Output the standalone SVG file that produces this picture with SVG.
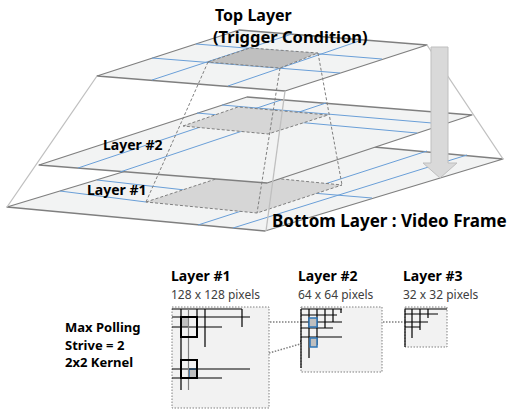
<svg xmlns="http://www.w3.org/2000/svg" width="509" height="410" viewBox="0 0 509 410">
<style>
.plane{fill:#f2f3f3;stroke:#7f7f7f;stroke-width:1.3;stroke-linejoin:round}
.blue{stroke:#6a9fd8;stroke-width:1;fill:none}
.hl{fill:#d6d6d6;stroke:#7f7f7f;stroke-width:1;stroke-dasharray:3 2}
.hltop{fill:#bfbfbf;stroke:#7f7f7f;stroke-width:1;stroke-dasharray:3 2}
.pyr{stroke:#bfbfbf;stroke-width:1.3;fill:none}
.proj{stroke:#7f7f7f;stroke-width:1;stroke-dasharray:3 2;fill:none}
.lbl{font-family:"Noto Sans","DejaVu Sans",sans-serif;font-weight:bold;fill:#000}
.sub{font-family:"Noto Sans","DejaVu Sans",sans-serif;fill:#404040;font-size:12px}
.box{fill:#f2f2f2;stroke:#808080;stroke-width:1;stroke-dasharray:1.5 1.5}
.g{stroke:#000;stroke-width:1.2;fill:none}
.k{stroke:#000;stroke-width:2;fill:none}
.cell{fill:#bfbfbf}
.bcell{fill:#bfbfbf;stroke:#2e75b6;stroke-width:1.5}
.dot{stroke:#7f7f7f;stroke-width:1.5;stroke-dasharray:1.5 1.5;fill:none}
</style>
<defs>
<marker id="tri" viewBox="0 0 10 10" refX="9" refY="5" markerWidth="7" markerHeight="7" markerUnits="userSpaceOnUse" orient="auto">
<path d="M0,0 L10,5 L0,10 z" fill="#000"/>
</marker>
</defs>

<g id="layer-1">
<polygon class="plane" points="7,207 265,231 503,159 245,135"/>
<line class="blue" x1="60" y1="191" x2="146" y2="202"/>
<line class="blue" x1="97" y1="180" x2="185" y2="190"/>
<line class="blue" x1="288" y1="191" x2="372" y2="198"/>
<line class="blue" x1="198" y1="225" x2="427" y2="151"/>
<line class="blue" x1="233" y1="228" x2="467" y2="155"/>
<polygon class="hl" points="146,202 231,174 342,185 257,213"/>
</g>

<g id="layer-2">
<polygon class="plane" points="39,165 267,183 472,115 247,97"/>
<line class="blue" x1="78" y1="168" x2="281" y2="100"/>
<line class="blue" x1="120" y1="172" x2="326" y2="103"/>
<line class="blue" x1="222" y1="105" x2="432" y2="123"/>
<line class="blue" x1="197" y1="113" x2="417" y2="133"/>
<polygon class="hl" points="183,126 238,107 328,115 268,134"/>
</g>

<g id="top-layer">
<polygon class="plane" points="97,76 285,91 427,45 239,30"/>
<line class="blue" x1="152" y1="58" x2="340" y2="73"/>
<line class="blue" x1="196" y1="44" x2="382" y2="59"/>
<line class="blue" x1="152" y1="80" x2="292" y2="34"/>
<line class="blue" x1="228" y1="86" x2="362" y2="40"/>
<polygon class="hltop" points="208,62 250,48 318,53 280,68"/>
</g>

<g id="connectors">
<line class="pyr" x1="97" y1="76" x2="7" y2="207"/>
<line class="pyr" x1="285" y1="91" x2="266" y2="231"/>
<line class="pyr" x1="427" y1="45" x2="503" y2="159"/>
<line class="proj" x1="208" y1="62" x2="146" y2="202"/>
<line class="proj" x1="280" y1="68" x2="257" y2="213"/>
<line class="proj" x1="318" y1="53" x2="342" y2="185"/>
<line class="dot" x1="189" y1="322" x2="309" y2="322" marker-end="url(#tri)"/>
<line class="dot" x1="197" y1="374" x2="307" y2="342" marker-end="url(#tri)"/>
<line class="dot" x1="317" y1="322" x2="417" y2="322" marker-end="url(#tri)"/>
</g>

<g id="arrow">
<polygon points="431,47 448,47 448,163 457,163 440,178 423,163 431,163" fill="#d9d9d9" stroke="#bfbfbf" stroke-width="1"/>
</g>

<g id="labels">
<text class="lbl" x="215" y="20.5" font-size="16">Top Layer</text>
<text class="lbl" x="213" y="43" font-size="16.5">(Trigger Condition)</text>
<text class="lbl" x="103" y="150" font-size="14">Layer #2</text>
<text class="lbl" x="87" y="195" font-size="14">Layer #1</text>
<text class="lbl" x="272" y="227" font-size="17">Bottom Layer : Video Frame</text>
<text class="lbl" x="65" y="332" font-size="13">Max Polling</text>
<text class="lbl" x="65" y="349.5" font-size="13">Strive = 2</text>
<text class="lbl" x="65" y="367" font-size="13">2x2 Kernel</text>
</g>

<g id="pool-layer1">
<text class="lbl" x="171" y="281" font-size="14">Layer #1</text>
<text class="sub" x="171" y="298.5">128 x 128 pixels</text>
<rect class="box" x="172" y="307" width="97" height="101"/>
<rect class="cell" x="181" y="317" width="8" height="10"/>
<rect class="bcell" x="189" y="369" width="8" height="9"/>
<path class="g" d="M172,309H242M172,317H250M172,327H222M172,369H250M172,378H222M181,309V390M197,309V337M197,360V378M205,309V347M242,309V327"/>
<path d="M188.5,309V390" stroke="#808080" stroke-width="1.2"/>
<rect class="k" x="181" y="317" width="16" height="20"/>
<rect class="k" x="181" y="360" width="16" height="18"/>
</g>

<g id="pool-layer2">
<text class="lbl" x="298" y="281" font-size="14">Layer #2</text>
<text class="sub" x="298" y="298.5">64 x 64 pixels</text>
<rect class="box" x="301" y="307" width="81" height="65"/>
<path class="g" d="M301,309H342M301,315H337M301,322H342M301,328H333M301,337H342M301,309V368M309,309V358M317,309V345M325,309V328M333,309V322M341,309V313"/>
<rect class="bcell" x="309" y="318" width="8" height="9"/>
<rect class="bcell" x="310" y="338" width="7" height="9"/>
</g>

<g id="pool-layer3">
<text class="lbl" x="403" y="281" font-size="14">Layer #3</text>
<text class="sub" x="403" y="298.5">32 x 32 pixels</text>
<rect class="box" x="405" y="307" width="42" height="40"/>
<path class="g" d="M405,309H447M405,314H438M405,322H428M405,327H420M405,309V347M412,309V338M420,309V330M428,309V318"/>
</g>
</svg>
